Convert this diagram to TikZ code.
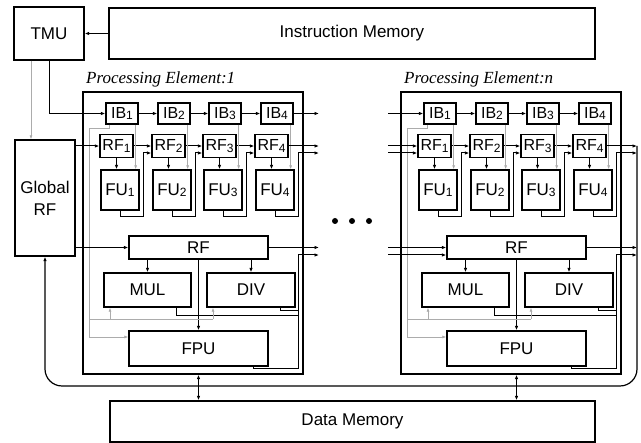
\documentclass[tikz,border=0pt]{standalone}
\usepackage{fontspec}
\setmainfont{Liberation Sans}
\newfontfamily\peserif{Liberation Serif}
\usetikzlibrary{arrows.meta}
\newcommand\dsub[1]{\raisebox{-1.5pt}{\fontsize{12}{12}\selectfont #1}}
\begin{document}
\begin{tikzpicture}[x=1pt,y=-1pt,
  box/.style={draw, line width=1.3pt, inner sep=0pt, font=\fontsize{17}{22}\selectfont},
  small/.style={box, font=\fontsize{16}{16}\selectfont},
  arr/.style={line width=1pt, -{Latex[length=4.5pt,width=3.5pt]}},
  ln/.style={line width=1pt},
  garr/.style={draw=gray!65, line width=0.7pt, -{Latex[length=4pt,width=3pt]}},
  gln/.style={draw=gray!65, line width=0.7pt},
  darr/.style={line width=1pt, {Latex[length=4.5pt,width=3.5pt]}-{Latex[length=4.5pt,width=3.5pt]}}]
\useasboundingbox (0,0) rectangle (641,443);
\fill[white] (0,0) rectangle (641,443);

\node[box, minimum width=70pt, minimum height=53pt] (TMU) at (49,33.5) {TMU};
\node[box, minimum width=486pt, minimum height=51pt] (IM) at (352,33.5) {Instruction Memory};
\node[box, minimum width=60pt, minimum height=116pt, align=center] (GRF) at (45,198) {Global\\RF};
\node[box, minimum width=485pt, minimum height=41pt] (DM) at (352.5,421.5) {Data Memory};

\foreach \p/\d/\lbl in {a/0/1, b/318/n} {
\begin{scope}[xshift=\d pt]
  \node[draw, line width=1.3pt, minimum width=220pt, minimum height=282pt] (\p PE) at (193,233) {};
  \node[anchor=base west, inner sep=0pt, font=\peserif\itshape\fontsize{17}{17}\selectfont] (\p lab) at (86,84) {Processing Element:\lbl};
  \foreach \k/\x in {1/122,2/174,3/225,4/277}
    \node[small, minimum width=32pt, minimum height=21pt] (\p IB\k) at (\x,113.5) {IB\dsub{\k}};
  \foreach \k/\x in {1/116.5,2/168.5,3/219.5,4/271.5}
    \node[small, minimum width=33pt, minimum height=23pt] (\p RF\k) at (\x,146) {RF\dsub{\k}};
  \foreach \k/\x in {1/120,2/172,3/223,4/275}
    \node[box, minimum width=38pt, minimum height=40pt] (\p FU\k) at (\x,190) {FU\dsub{\k}};
  \node[box, minimum width=139pt, minimum height=23pt] (\p RF) at (198.5,247.5) {RF};
  \node[box, minimum width=87pt, minimum height=34pt] (\p MUL) at (147.5,290) {MUL};
  \node[box, minimum width=88pt, minimum height=34pt] (\p DIV) at (251,290) {DIV};
  \node[box, minimum width=139pt, minimum height=35pt] (\p FPU) at (198.5,348.5) {FPU};
  \coordinate (\p out) at (319,0);

  \foreach \k/\n in {1/2,2/3,3/4} {
    \draw[arr] (\p IB\k.east) -- (\p IB\n.west);
    \draw[arr] (\p RF\k.east) -- (\p RF\n.west);
    \draw[arr] (\p FU\k.south) |- ++(23,6) |- ([yshift=-7pt]\p RF\n.west);
  }
  \foreach \k in {1,2,3,4} {
    \draw[arr] (\p RF\k.south) -- (\p RF\k.south |- \p FU\k.north);
    \coordinate (\p g\k) at ([xshift=-3pt]\p IB\k.south east);
    \draw[garr] (\p g\k) -- (\p g\k |- \p FU\k.north);
  }
  \coordinate (\p fo) at ([yshift=-7pt]\p RF4.east);
  \draw[arr] (\p RF4.east) -- (\p RF4.east -| \p out);
  \draw[arr] (\p FU4.south) |- ++(23,6) |- (\p fo -| \p out);

  \draw[arr] (\p RF.south -| \p MUL.north) -- (\p MUL.north);
  \draw[arr] (\p RF.south -| \p DIV.north) -- (\p DIV.north);
  \draw[arr] (\p RF.south) -- (\p FPU.north);
  \draw[arr] (\p RF.east) -- (\p RF.east -| \p out);
  \coordinate (\p rt) at (298,255);
  \draw[ln] ([xshift=28.5pt]\p MUL.south) |- (298,316);
  \draw[ln] ([xshift=29pt]\p DIV.south) |- (298,311);
  \draw[ln] ([xshift=54.5pt]\p FPU.south) |- (298,369) -- (\p rt);
  \draw[arr] (\p rt) -- (\p rt -| \p out);

  \draw[garr] ([xshift=4pt]\p IB1.south west) |- (89,128) -- (89,337) -- ([yshift=11.5pt]\p FPU.west);
  \draw[gln] (89,319) -- (213,319);
  \coordinate (\p gm) at (110,319);
  \coordinate (\p gd) at (213,319);
  \draw[garr] (\p gm) -- (\p gm |- \p MUL.south);
  \draw[garr] (\p gd) -- (\p gd |- \p DIV.south);

  \draw[darr] (\p FPU.south |- \p PE.south) -- (\p FPU.south |- DM.north);
\end{scope}
}

\draw[arr] (IM.west) -- (TMU.east);
\coordinate (t1) at ([xshift=-18pt]TMU.south);
\draw[garr] (t1) -- (t1 |- GRF.north);
\draw[arr] (TMU.south) |- (aIB1.west);
\draw[arr] (GRF.east |- aRF1.west) -- (aRF1.west);
\draw[arr] (GRF.east |- aRF.west) -- (aRF.west);
\draw[arr] (aIB4.east) -- (aIB4.east -| aout);

\coordinate (bin) at (388,0);
\draw[arr] (bIB1.west -| bin) -- (bIB1.west);
\draw[arr] (bRF1.west -| bin) -- (bRF1.west);
\coordinate (bRF1lo) at ([yshift=-7pt]bRF1.west);
\draw[arr] (bRF1lo -| bin) -- (bRF1lo);
\draw[arr] (bRF.west -| bin) -- (bRF.west);
\coordinate (bRFlo) at ([yshift=-7.5pt]bRF.west);
\draw[arr] (bRFlo -| bin) -- (bRFlo);

\coordinate (bus) at (637,146);
\draw[arr, line width=1.2pt, rounded corners=17pt] (bus) -- (637,386) -- (45,386) -- (GRF.south);

\foreach \x in {335,352,369} \fill (\x,221) circle (3);
\end{tikzpicture}
\end{document}
